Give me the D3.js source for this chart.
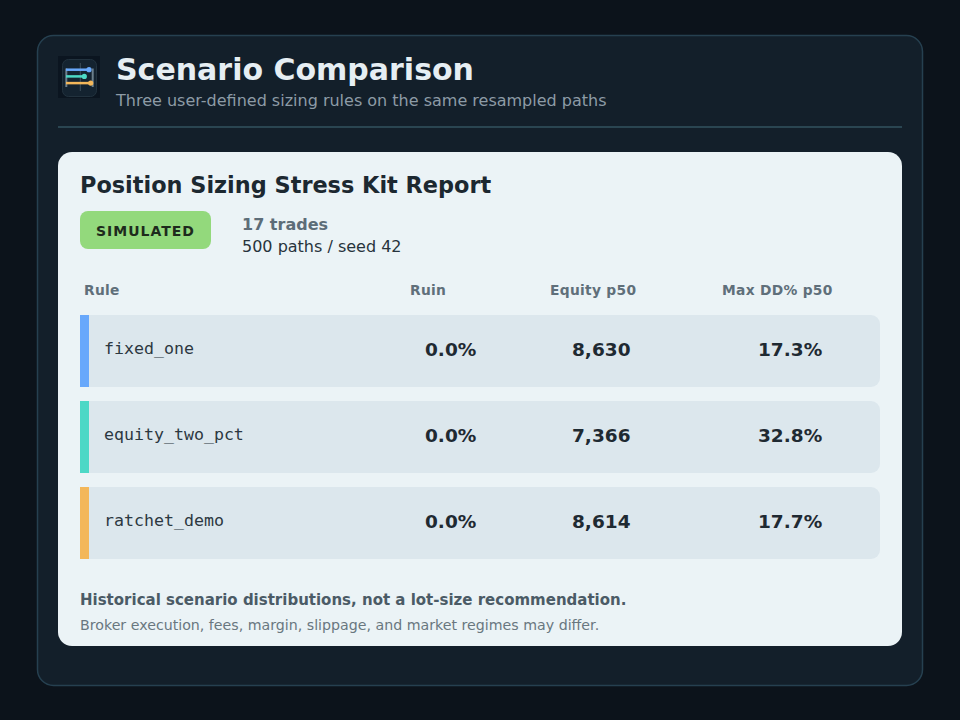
<!DOCTYPE html>
<html>
<head>
<meta charset="utf-8">
<script src="https://cdn.jsdelivr.net/npm/d3@7"></script>
<style>
  html, body { margin: 0; padding: 0; background: #0c131b; }
  svg { display: block; font-family: "DejaVu Sans", sans-serif; }
</style>
</head>
<body>
<div id="chart"></div>
<script>
// Scenario rows
const rules = ["fixed_one", "equity_two_pct", "ratchet_demo"];
const ruin = [0.0, 0.0, 0.0];
const equityP50 = [8630, 7366, 8614];
const maxDDp50 = [17.3, 32.8, 17.7];
const ruleColors = ["#68a8fb", "#4dd8c6", "#f3b75a"];
const headers = ["Rule", "Ruin", "Equity p50", "Max DD% p50"];

const width = 960, height = 720;

const svg = d3.select("#chart")
    .append("svg")
    .attr("width", width)
    .attr("height", height);

svg.append("rect")
    .attr("width", width)
    .attr("height", height)
    .attr("fill", "#0c131b");

// outer panel
svg.append("rect")
    .attr("x", 37.5).attr("y", 35.5)
    .attr("width", 885).attr("height", 650)
    .attr("rx", 16)
    .attr("fill", "#131f2a")
    .attr("stroke", "#264050")
    .attr("stroke-width", 1.5);

// icon
const icon = svg.append("g").attr("transform", "translate(58,56)");
icon.append("rect").attr("width", 42).attr("height", 42).attr("fill", "#0b1520");
icon.append("rect")
    .attr("x", 4.5).attr("y", 3.5).attr("width", 34).attr("height", 37).attr("rx", 6)
    .attr("fill", "#142330").attr("stroke", "#22323e");
icon.selectAll("line.side")
    .data([8.3, 34.7])
    .enter().append("line")
    .attr("x1", d => d).attr("x2", d => d)
    .attr("y1", 12.5).attr("y2", 31)
    .attr("stroke", "#6b7f8c").attr("stroke-width", 2);
icon.append("line")
    .attr("x1", 22.3).attr("x2", 22.3).attr("y1", 7).attr("y2", 35)
    .attr("stroke", "#3c4e5a").attr("stroke-width", 1);
const iconEnds = [31, 26.3, 32.7];
icon.selectAll("g.bar")
    .data(ruleColors)
    .enter().append("g")
    .each(function(c, i) {
        const g = d3.select(this);
        const yy = 13.7 + i * 6.7;
        g.append("line").attr("x1", 8).attr("x2", iconEnds[i]).attr("y1", yy).attr("y2", yy)
            .attr("stroke", c).attr("stroke-width", 2.5);
        g.append("circle").attr("cx", iconEnds[i]).attr("cy", yy).attr("r", 2.6).attr("fill", c);
    });

svg.append("text")
    .attr("x", 116).attr("y", 79.5)
    .attr("font-size", 30).attr("font-weight", "bold")
    .attr("fill", "#e6eef3")
    .text("Scenario Comparison");

svg.append("text")
    .attr("x", 116).attr("y", 106)
    .attr("font-size", 16)
    .attr("fill", "#8d9ba6")
    .text("Three user-defined sizing rules on the same resampled paths");

svg.append("line")
    .attr("x1", 58).attr("x2", 902).attr("y1", 127).attr("y2", 127)
    .attr("stroke", "#2a4551").attr("stroke-width", 2);

// report card
svg.append("rect")
    .attr("x", 58).attr("y", 152)
    .attr("width", 844).attr("height", 494)
    .attr("rx", 14)
    .attr("fill", "#ebf3f6");

svg.append("text")
    .attr("x", 80).attr("y", 193)
    .attr("font-size", 22.4).attr("font-weight", "bold")
    .attr("fill", "#1c2830")
    .text("Position Sizing Stress Kit Report");

svg.append("rect")
    .attr("x", 80).attr("y", 211)
    .attr("width", 131).attr("height", 38).attr("rx", 8)
    .attr("fill", "#93d97c");
svg.append("text")
    .attr("x", 145.5).attr("y", 235.5)
    .attr("text-anchor", "middle")
    .attr("font-size", 14).attr("font-weight", "bold")
    .attr("letter-spacing", 1)
    .attr("fill", "#1e2b1c")
    .text("SIMULATED");

svg.append("text")
    .attr("x", 242).attr("y", 230)
    .attr("font-size", 16).attr("font-weight", "bold")
    .attr("fill", "#5d6d78")
    .text("17 trades");
svg.append("text")
    .attr("x", 242).attr("y", 252)
    .attr("font-size", 16)
    .attr("fill", "#27333c")
    .text("500 paths / seed 42");

// column positions
const headerX = [84, 410, 550, 722];
const valueX = [104, 425, 572, 758];

svg.selectAll("text.hdr")
    .data(headers)
    .enter().append("text")
    .attr("class", "hdr")
    .attr("x", (d, i) => headerX[i]).attr("y", 295)
    .attr("font-size", 13.8).attr("font-weight", "bold")
    .attr("letter-spacing", 0.3)
    .attr("fill", "#5f6f7a")
    .text(d => d);

const y = d3.scaleBand()
    .domain(rules)
    .range([315, 559])
    .paddingInner(14 / 86);

const rows = svg.selectAll("g.row")
    .data(rules)
    .enter().append("g")
    .attr("class", "row")
    .attr("transform", d => `translate(80,${y(d)})`);

const rw = 800, rh = y.bandwidth(), r = 9;
rows.append("path")
    .attr("d", `M0,0H${rw - r}A${r},${r} 0 0 1 ${rw},${r}V${rh - r}A${r},${r} 0 0 1 ${rw - r},${rh}H0Z`)
    .attr("fill", "#dce7ed");
rows.append("rect")
    .attr("width", 9).attr("height", rh)
    .attr("fill", (d, i) => ruleColors[i]);

const fmtPct = d3.format(".1f");
const fmtInt = d3.format(",");

rows.append("text")
    .attr("x", valueX[0] - 80).attr("y", 39)
    .attr("font-family", "'DejaVu Sans Mono', monospace")
    .attr("font-size", 16.6)
    .attr("fill", "#2c3841")
    .text(d => d);

const cols = [
    i => fmtPct(ruin[i]) + "%",
    i => fmtInt(equityP50[i]),
    i => fmtPct(maxDDp50[i]) + "%"
];
cols.forEach((f, c) => {
    rows.append("text")
        .attr("x", valueX[c + 1] - 80).attr("y", 41)
        .attr("font-size", 18.5).attr("font-weight", "bold")
        .attr("fill", "#1f2a32")
        .text((d, i) => f(i));
});

svg.append("text")
    .attr("x", 80).attr("y", 605)
    .attr("font-size", 15).attr("font-weight", "bold")
    .attr("fill", "#4b5b66")
    .text("Historical scenario distributions, not a lot-size recommendation.");
svg.append("text")
    .attr("x", 80).attr("y", 630)
    .attr("font-size", 14.2)
    .attr("fill", "#69777f")
    .text("Broker execution, fees, margin, slippage, and market regimes may differ.");
</script>
</body>
</html>
